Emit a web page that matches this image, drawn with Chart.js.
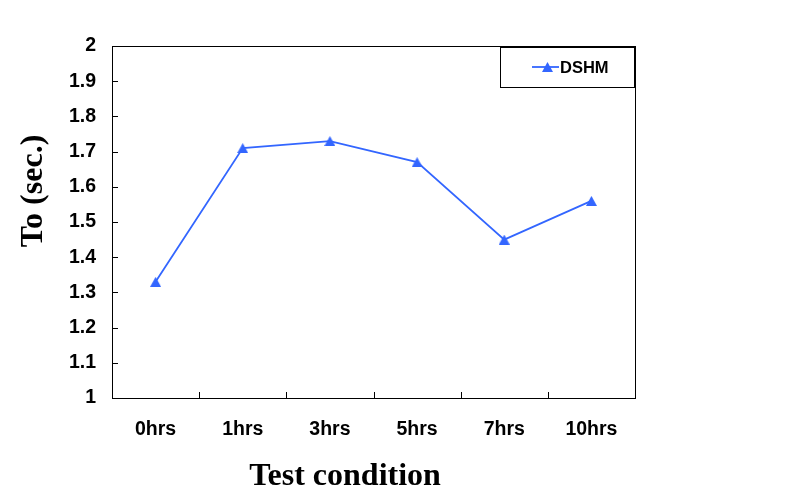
<!DOCTYPE html>
<html>
<head>
<meta charset="utf-8">
<script src="https://cdn.jsdelivr.net/npm/chart.js@4"></script>
<style>
html,body{margin:0;padding:0;background:#fff;}
#wrap{width:794px;height:497px;}
</style>
</head>
<body>
<div id="wrap"><canvas id="c" width="794" height="497"></canvas></div>
<script>
const categories = ['0hrs','1hrs','3hrs','5hrs','7hrs','10hrs'];
const dshm = [1.33, 1.71, 1.73, 1.67, 1.45, 1.56];
const seriesName = 'DSHM';
const yTitle = 'To (sec.)';
const xTitle = 'Test condition';

const lineColor = '#3366FF';
const titleFont = 'bold 32px "Liberation Serif", "Times New Roman", serif';

// triangle marker centred on its bounding box
function makeTriangle(w, h) {
  const c = document.createElement('canvas');
  c.width = w; c.height = h;
  const g = c.getContext('2d');
  g.fillStyle = lineColor;
  g.beginPath();
  g.moveTo(w / 2, 0);
  g.lineTo(w, h);
  g.lineTo(0, h);
  g.closePath();
  g.fill();
  return c;
}
const tri = makeTriangle(11, 10);

const framePlugin = {
  id: 'frame',
  afterDraw(chart) {
    const {ctx, chartArea: a, scales: {x, y}} = chart;
    ctx.save();
    ctx.strokeStyle = '#000';
    ctx.lineWidth = 1;
    ctx.strokeRect(Math.round(a.left) + 0.5, Math.round(a.top) + 0.5, Math.round(a.right - a.left), Math.round(a.bottom - a.top));
    // inward y ticks
    ctx.beginPath();
    y.ticks.forEach(t => {
      const py = Math.round(y.getPixelForValue(t.value)) + 0.5;
      ctx.moveTo(a.left, py);
      ctx.lineTo(a.left + 6, py);
    });
    // inward x ticks between categories
    for (let i = 1; i < categories.length; i++) {
      const px = Math.round((x.getPixelForValue(i - 1) + x.getPixelForValue(i)) / 2) + 0.5;
      ctx.moveTo(px, a.bottom);
      ctx.lineTo(px, a.bottom - 6);
    }
    ctx.stroke();
    // legend box
    const lx = 500, ly = 47, lw = 134, lh = 40;
    ctx.fillStyle = '#fff';
    ctx.fillRect(lx, ly, lw, lh);
    ctx.strokeRect(lx + 0.5, ly + 0.5, lw, lh);
    const cy = ly + lh / 2;
    ctx.strokeStyle = lineColor;
    ctx.lineWidth = 1.8;
    ctx.beginPath();
    ctx.moveTo(532, cy);
    ctx.lineTo(559, cy);
    ctx.stroke();
    ctx.drawImage(tri, 542, cy - 5);
    ctx.fillStyle = '#000';
    ctx.font = 'bold 16.5px "Liberation Sans", Arial, sans-serif';
    ctx.textAlign = 'left';
    ctx.textBaseline = 'middle';
    ctx.fillText(seriesName, 560, cy + 1);
    // axis titles
    ctx.font = titleFont;
    ctx.textAlign = 'center';
    ctx.textBaseline = 'alphabetic';
    ctx.fillText(xTitle, 345, 485);
    ctx.translate(42, 191);
    ctx.rotate(-Math.PI / 2);
    ctx.fillText(yTitle, 0, 0);
    ctx.restore();
  }
};

new Chart(document.getElementById('c'), {
  type: 'line',
  data: {
    labels: categories,
    datasets: [{
      label: seriesName,
      data: dshm,
      borderColor: lineColor,
      backgroundColor: lineColor,
      borderWidth: 1.8,
      pointStyle: tri,
      pointRadius: 5,
      pointHoverRadius: 5,
      tension: 0
    }]
  },
  options: {
    responsive: false,
    animation: false,
    devicePixelRatio: 1,
    layout: {padding: {top: 46, right: 159, bottom: 0, left: 0}},
    plugins: {legend: {display: false}, tooltip: {enabled: false}},
    scales: {
      x: {
        offset: true,
        grid: {display: false, drawTicks: false},
        border: {display: false},
        ticks: {color: '#000', padding: 20, font: {family: '"Liberation Sans", Arial, sans-serif', size: 19.5, weight: 'bold'}},
        afterFit(s) { s.height = 99; }
      },
      y: {
        min: 1, max: 2,
        ticks: {stepSize: 0.1, color: '#000', padding: 16, font: {family: '"Liberation Sans", Arial, sans-serif', size: 19.5, weight: 'bold'},
          callback: v => (Math.round(v * 10) / 10).toString()},
        grid: {display: false, drawTicks: false},
        border: {display: false},
        afterFit(s) { s.width = 112; }
      }
    }
  },
  plugins: [framePlugin]
});
</script>
</body>
</html>
